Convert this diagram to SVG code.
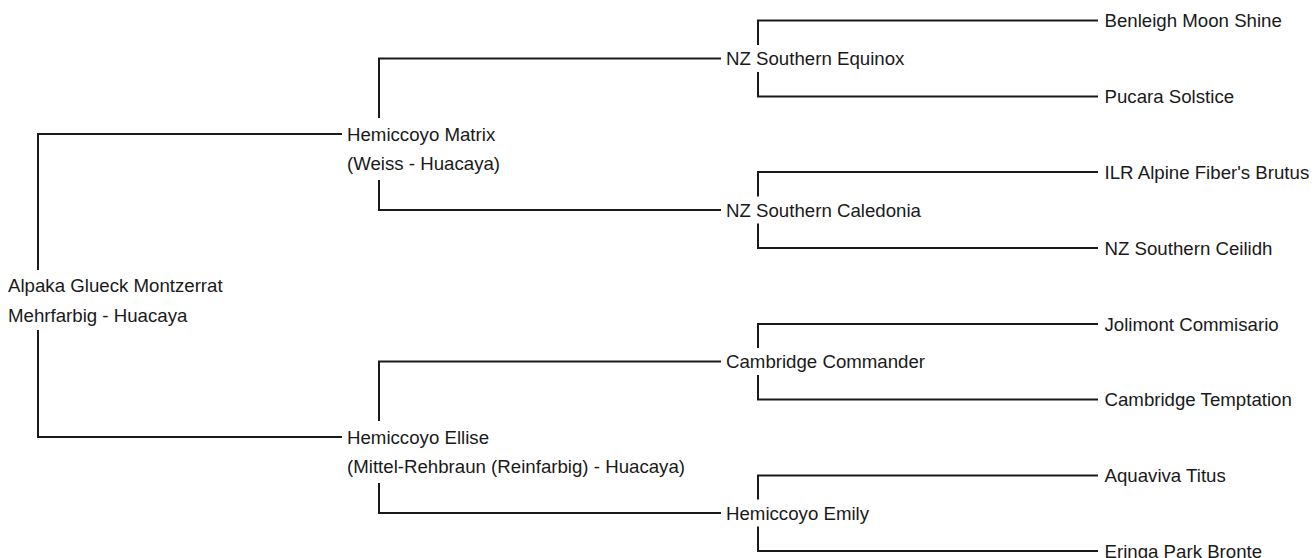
<svg xmlns="http://www.w3.org/2000/svg" width="1316" height="558" viewBox="0 0 1316 558">
<style>
  .t { font-family: "Liberation Sans", Arial, sans-serif; font-size: 18.67px; fill: #1a1a1a; }
  .c { fill: none; stroke: #1a1a1a; stroke-width: 2; }
</style>
<rect width="1316" height="558" fill="#ffffff"/>
<g id="connectors" class="c">
  <path d="M342,134 H38 V270 M38,330 V437 H342"/>
  <path d="M721,58.5 H379 V118 M379,180 V210 H721"/>
  <path d="M721,361.5 H379 V421 M379,483 V513 H721"/>
  <path d="M1098,20.5 H758 V45 M758,72 V96.5 H1098"/>
  <path d="M1098,172 H758 V196.5 M758,223.5 V248 H1098"/>
  <path d="M1098,324 H758 V348 M758,375 V399.5 H1098"/>
  <path d="M1098,475.5 H758 V499.5 M758,526.5 V551 H1098"/>
</g>
<g id="root"><text class="t" x="8" y="292.2">Alpaka Glueck Montzerrat</text><text class="t" x="8" y="321.7">Mehrfarbig - Huacaya</text></g>
<g id="sire"><text class="t" x="347" y="140.7">Hemiccoyo Matrix</text><text class="t" x="347" y="170.2">(Weiss - Huacaya)</text></g>
<g id="dam"><text class="t" x="347" y="443.7">Hemiccoyo Ellise</text><text class="t" x="347" y="473.2">(Mittel-Rehbraun (Reinfarbig) - Huacaya)</text></g>
<g id="ss"><text class="t" x="726" y="65.2">NZ Southern Equinox</text></g>
<g id="sd"><text class="t" x="726" y="216.7">NZ Southern Caledonia</text></g>
<g id="ds"><text class="t" x="726" y="368.2">Cambridge Commander</text></g>
<g id="dd"><text class="t" x="726" y="519.7">Hemiccoyo Emily</text></g>
<g id="sss"><text class="t" x="1104.5" y="27.2">Benleigh Moon Shine</text></g>
<g id="ssd"><text class="t" x="1104.5" y="103.2">Pucara Solstice</text></g>
<g id="sds"><text class="t" x="1104.5" y="178.7">ILR Alpine Fiber's Brutus</text></g>
<g id="sdd"><text class="t" x="1104.5" y="254.7">NZ Southern Ceilidh</text></g>
<g id="dss"><text class="t" x="1104.5" y="330.7">Jolimont Commisario</text></g>
<g id="dsd"><text class="t" x="1104.5" y="406.2">Cambridge Temptation</text></g>
<g id="dds"><text class="t" x="1104.5" y="482.2">Aquaviva Titus</text></g>
<g id="ddd"><text class="t" x="1104.5" y="557.7">Eringa Park Bronte</text></g>
</svg>
